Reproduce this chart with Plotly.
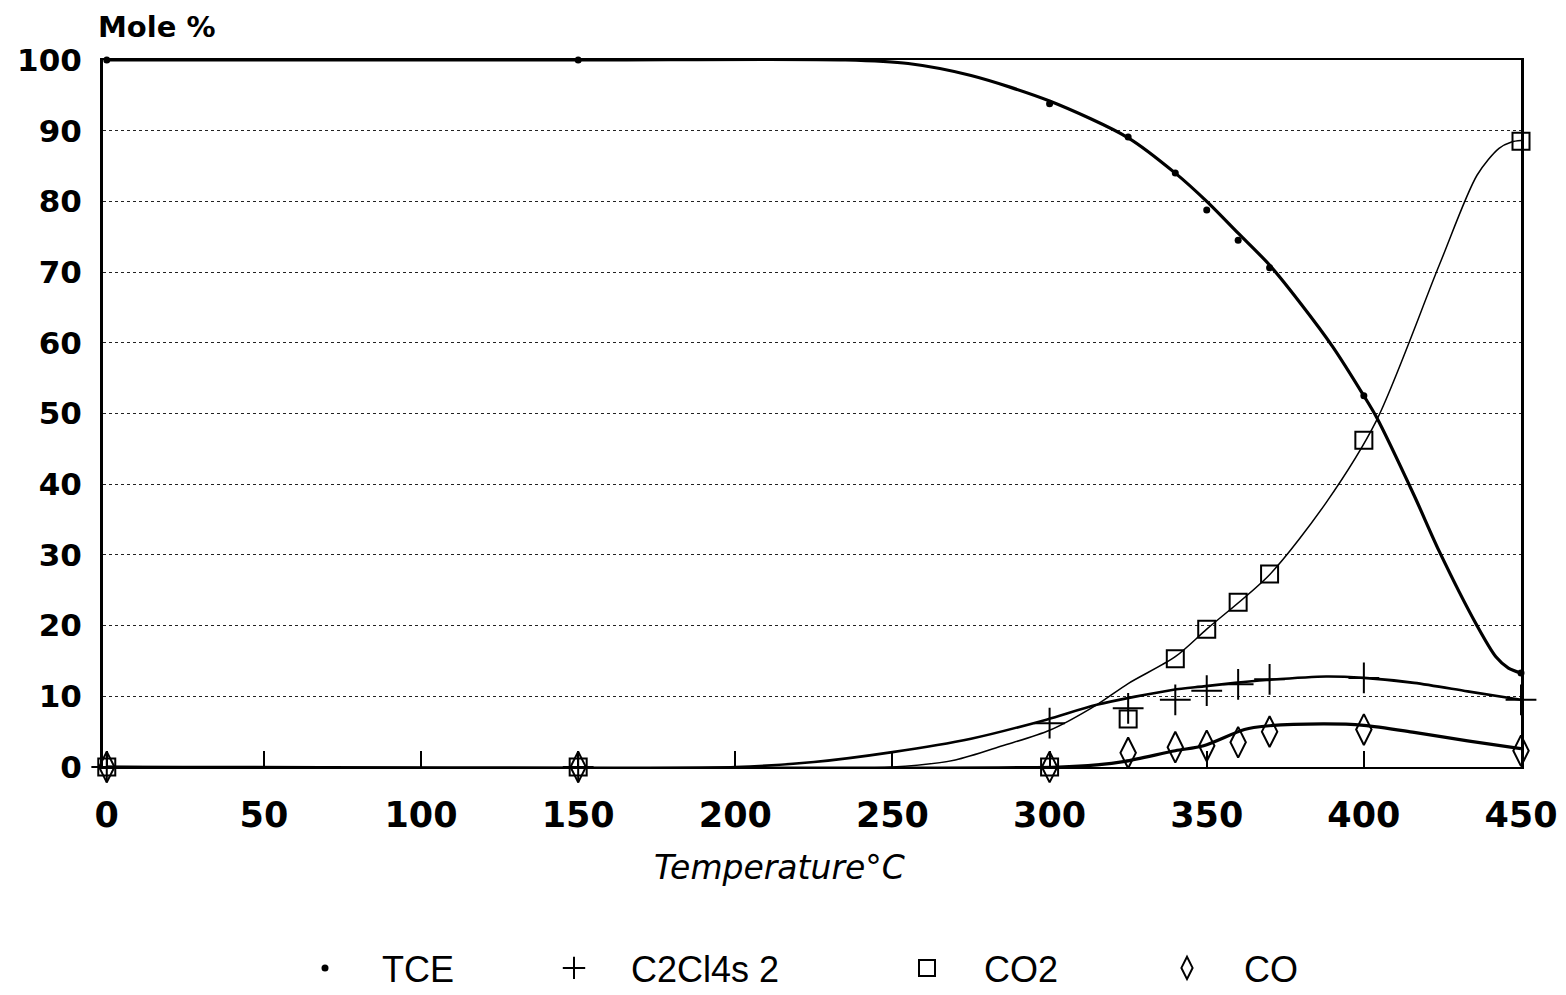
import plotly.graph_objects as go

# ---- measured points (Temperature °C, mole %) ----
temps = [0, 150, 300, 325, 340, 350, 360, 370, 400, 450]
tce = [100, 100, 93.8, 89.1, 84.0, 78.8, 74.5, 70.6, 52.5, 13.3]
c2cl4 = [0, 0, 6.2, 8.3, 9.5, 10.8, 11.7, 12.4, 12.6, 9.5]
co2 = [0, 0, 0, 6.8, 15.3, 19.5, 23.3, 27.3, 46.2, 88.5]
co = [0, 0, 0, 2.0, 2.8, 3.0, 3.5, 5.0, 5.3, 2.3]

# ---- fitted curves ----
tce_fit_x = [0, 150, 235, 255, 275, 300, 325, 340, 350, 360, 370, 380, 390, 400, 404, 416, 424, 436, 442, 446, 450]
tce_fit_y = [100, 100, 100, 99.5, 97.8, 94.2, 89.0, 84.0, 80.0, 75.5, 71.0, 65.5, 59.5, 52.5, 49.5, 38.4, 30.5, 20.0, 15.6, 14.0, 13.3]

c2cl4_fit_x = [0, 200, 225, 250, 275, 299, 315, 339, 349, 359, 369, 388, 400, 416, 433, 450]
c2cl4_fit_y = [0, 0, 0.7, 2.1, 4.0, 6.7, 8.8, 10.9, 11.4, 11.9, 12.3, 12.8, 12.6, 11.9, 10.7, 9.5]

co2_fit_x = [0, 250, 270, 285, 300, 315, 325, 340, 350, 370, 388, 404, 424, 436, 443, 447, 450]
co2_fit_y = [0, 0, 1.0, 3.0, 5.2, 8.8, 11.8, 15.6, 19.5, 27.2, 37.4, 49.0, 71.0, 83.7, 87.5, 88.4, 88.6]

co_fit_x = [0, 303, 315, 324, 340, 349, 362, 369, 387, 400, 416, 433, 450]
co_fit_y = [0, 0, 0.3, 0.8, 2.3, 3.0, 5.3, 5.8, 6.1, 5.9, 4.9, 3.7, 2.6]

x_ticks = [0, 50, 100, 150, 200, 250, 300, 350, 400, 450]
y_ticks = [0, 10, 20, 30, 40, 50, 60, 70, 80, 90, 100]

fig = go.Figure()

def curve(x, y, w):
    fig.add_trace(go.Scatter(x=x, y=y, mode="lines", line=dict(color="black", width=w, shape="spline", smoothing=0.8),
                             showlegend=False, hoverinfo="skip"))

curve(tce_fit_x, tce_fit_y, 3.2)
curve(c2cl4_fit_x, c2cl4_fit_y, 2.6)
curve(co2_fit_x, co2_fit_y, 1.5)
curve(co_fit_x, co_fit_y, 3.2)

fig.add_trace(go.Scatter(x=temps, y=tce, mode="markers", name="TCE", legend="legend",
                         marker=dict(symbol="circle", size=7, color="black"), cliponaxis=False))
fig.add_trace(go.Scatter(x=temps, y=c2cl4, mode="markers", name="C2Cl4s 2", legend="legend2",
                         marker=dict(symbol="cross-thin-open", size=22, color="black",
                                     line=dict(color="black", width=2)), cliponaxis=False))
fig.add_trace(go.Scatter(x=temps, y=co2, mode="markers", name="CO2", legend="legend3",
                         marker=dict(symbol="square-open", size=17, color="black",
                                     line=dict(color="black", width=2)), cliponaxis=False))
fig.add_trace(go.Scatter(x=temps, y=co, mode="markers", name="CO", legend="legend4",
                         marker=dict(symbol="diamond-tall-open", size=22, color="black",
                                     line=dict(color="black", width=2)), cliponaxis=False))

L, R, T, B = 103, 45, 60, 228
W, H = 1566, 995
pw = W - L - R
ph = H - T - B

def px_x(px):
    return (px - L) / pw

def px_y(py):
    return (H - B - py) / ph

leg_font = dict(family="Liberation Sans", size=36, color="black")
def leg(symbol_px):
    return dict(x=px_x(symbol_px - 55), y=px_y(968), xanchor="left", yanchor="middle", orientation="h",
                font=leg_font, bgcolor="rgba(0,0,0,0)", itemwidth=104, borderwidth=0,
                tracegroupgap=0, valign="middle")

fig.update_layout(
    width=W, height=H,
    margin=dict(l=L, r=R, t=T, b=B, autoexpand=False),
    paper_bgcolor="white", plot_bgcolor="white",
    legend=leg(323), legend2=leg(572), legend3=leg(925), legend4=leg(1185),
    xaxis=dict(range=[-1.2, 450], tickvals=x_ticks, ticks="inside", ticklen=16, tickwidth=2, tickcolor="black",
               showline=True, linewidth=2, linecolor="black", mirror=True, showgrid=False, zeroline=False,
               tickfont=dict(family="DejaVu Sans", size=35, color="black", weight="bold"), ticklabelstandoff=16),
    yaxis=dict(range=[0, 100], tickvals=y_ticks, ticks="", showline=True, linewidth=3, linecolor="black", mirror=True,
               showgrid=True, griddash="dot", gridcolor="#222", gridwidth=1, zeroline=False,
               tickfont=dict(family="DejaVu Sans", size=31, color="black", weight="bold"), ticklabelstandoff=12),
    annotations=[
        dict(text="<b>Mole %</b>", x=px_x(96), y=px_y(27), xref="paper", yref="paper", xanchor="left", yanchor="middle",
             showarrow=False, font=dict(family="DejaVu Sans", size=29, color="black")),
        dict(text="<i>Temperature°C</i>", x=px_x(779), y=px_y(867), xref="paper", yref="paper", xanchor="center",
             yanchor="middle", showarrow=False, font=dict(family="DejaVu Sans", size=33, color="black")),
    ],
)

fig.write_html("out.html")
